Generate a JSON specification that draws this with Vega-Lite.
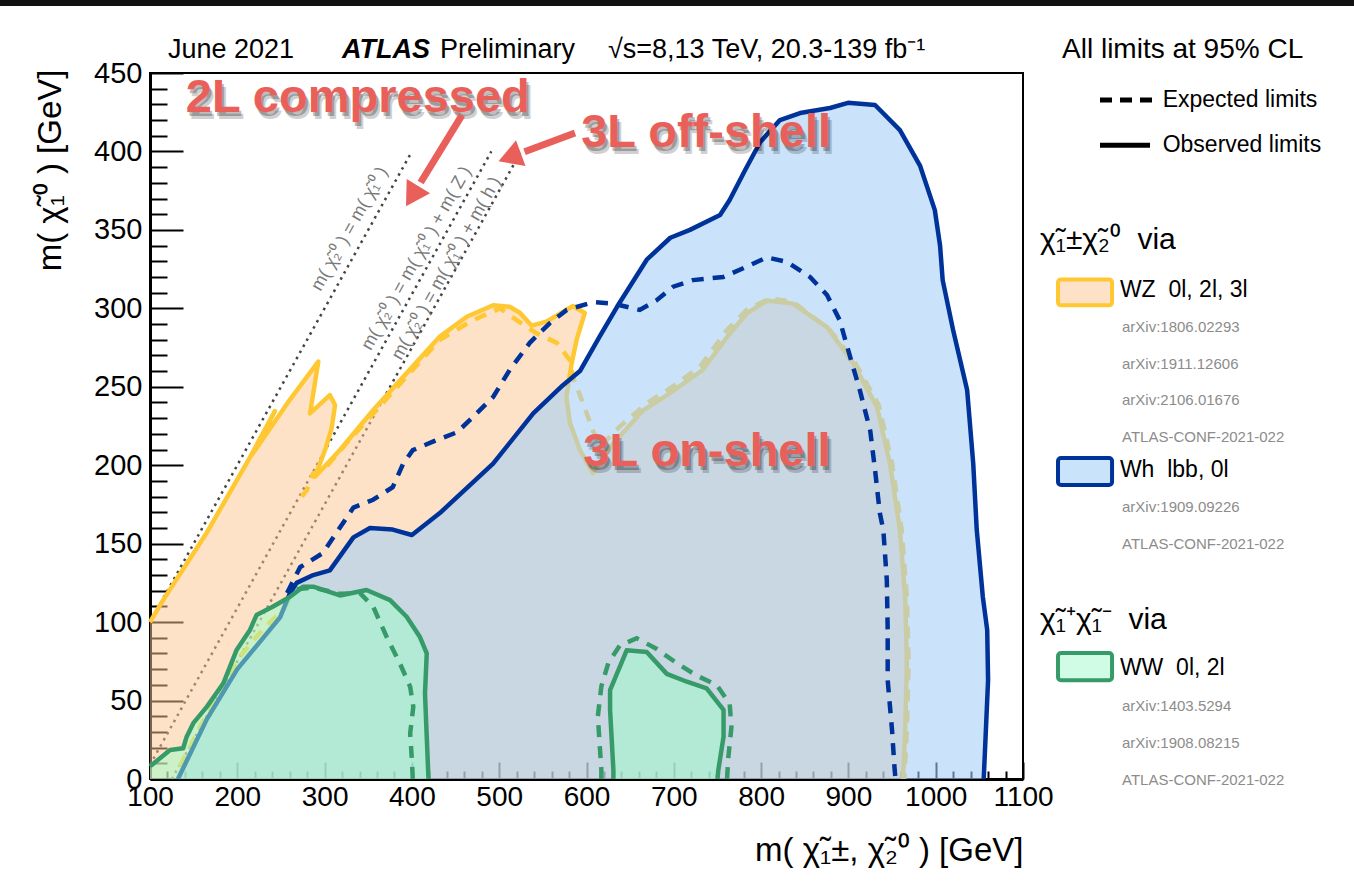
{
  "$schema": "https://vega.github.io/schema/vega-lite/v6.json",
  "width": 873,
  "height": 706,
  "autosize": {"type": "none"},
  "padding": {"left": 150, "top": 73, "right": 331, "bottom": 103},
  "background": "white",
  "config": {"font": "Liberation Sans", "view": {"stroke": "black", "strokeWidth": 2}},
  "resolve": {"axis": {"x": "independent", "y": "independent"}},
  "datasets": {
    "band": [{"x": -80, "x2": 1500, "y": 492.7, "y2": 500}],
    "kin": [
      {"seg": "A", "i": 0, "x": 100, "y": 100}, {"seg": "A", "i": 1, "x": 400, "y": 400},
      {"seg": "B", "i": 0, "x": 100, "y": 9}, {"seg": "B", "i": 1, "x": 491, "y": 400},
      {"seg": "C", "i": 0, "x": 125, "y": 0}, {"seg": "C", "i": 1, "x": 525, "y": 400}
    ],
    "kinlab": [
      {"label": "m( \u03c7\u0303\u2082\u2070 ) = m( \u03c7\u0303\u2081\u2070 )", "x": 329, "y": 350.5},
      {"label": "m( \u03c7\u0303\u2082\u2070 ) = m( \u03c7\u0303\u2081\u2070 ) + m( Z )", "x": 405.5, "y": 331.8},
      {"label": "m( \u03c7\u0303\u2082\u2070 ) = m( \u03c7\u0303\u2081\u2070 ) + m( h )", "x": 439.8, "y": 325.4}
    ],
    "wz": [
      {"i": 0, "x": 100, "y": 0, "c": 1}, {"i": 1, "x": 100, "y": 100, "c": 0}, {"i": 2, "x": 115, "y": 114, "c": 0},
      {"i": 3, "x": 165, "y": 157, "c": 0}, {"i": 4, "x": 214.5, "y": 205, "c": 0}, {"i": 5, "x": 243, "y": 234.5, "c": 0},
      {"i": 6, "x": 216.5, "y": 206.5, "c": 0}, {"i": 7, "x": 258, "y": 240, "c": 0}, {"i": 8, "x": 292.8, "y": 266, "c": 0},
      {"i": 9, "x": 287, "y": 245.8, "c": 0}, {"i": 10, "x": 283.3, "y": 233, "c": 0}, {"i": 11, "x": 306, "y": 244.7, "c": 0},
      {"i": 12, "x": 312, "y": 238.4, "c": 0}, {"i": 13, "x": 308, "y": 223.5, "c": 0}, {"i": 14, "x": 300.5, "y": 209.7, "c": 0},
      {"i": 15, "x": 289, "y": 192.7, "c": 0}, {"i": 16, "x": 317.6, "y": 209.7, "c": 0}, {"i": 17, "x": 355.5, "y": 235, "c": 0},
      {"i": 18, "x": 394, "y": 258.7, "c": 0}, {"i": 19, "x": 432, "y": 282, "c": 0}, {"i": 20, "x": 462.8, "y": 294.6, "c": 0},
      {"i": 21, "x": 493, "y": 302, "c": 0}, {"i": 22, "x": 512, "y": 301, "c": 0}, {"i": 23, "x": 524, "y": 297, "c": 0},
      {"i": 24, "x": 537, "y": 289, "c": 0}, {"i": 25, "x": 554, "y": 291.5, "c": 0}, {"i": 26, "x": 584.5, "y": 301.5, "c": 0},
      {"i": 27, "x": 598, "y": 297, "c": 0}, {"i": 28, "x": 588.7, "y": 280, "c": 0}, {"i": 29, "x": 583, "y": 265, "c": 0},
      {"i": 30, "x": 577, "y": 243.6, "c": 0}, {"i": 31, "x": 581, "y": 227, "c": 0}, {"i": 32, "x": 592.5, "y": 209.7, "c": 0},
      {"i": 33, "x": 607.5, "y": 195, "c": 0}, {"i": 34, "x": 627, "y": 211.6, "c": 0}, {"i": 35, "x": 665, "y": 235, "c": 0},
      {"i": 36, "x": 695.6, "y": 246, "c": 0}, {"i": 37, "x": 733, "y": 260.7, "c": 0}, {"i": 38, "x": 761, "y": 281.7, "c": 0},
      {"i": 39, "x": 784, "y": 297, "c": 0}, {"i": 40, "x": 807, "y": 305, "c": 0}, {"i": 41, "x": 836.6, "y": 303, "c": 0},
      {"i": 42, "x": 875.5, "y": 288, "c": 0}, {"i": 43, "x": 905.5, "y": 265, "c": 0}, {"i": 44, "x": 932.8, "y": 237, "c": 0},
      {"i": 45, "x": 947.6, "y": 201, "c": 0}, {"i": 46, "x": 959, "y": 158.7, "c": 0}, {"i": 47, "x": 965, "y": 116, "c": 0},
      {"i": 48, "x": 967, "y": 74, "c": 0}, {"i": 49, "x": 965, "y": 31, "c": 0}, {"i": 50, "x": 962.5, "y": 0, "c": 0}
    ],
    "wzexp": [
      {"seg": "A", "i": 0, "x": 134, "y": 8}, {"seg": "A", "i": 1, "x": 146, "y": 20.6}, {"seg": "A", "i": 2, "x": 157, "y": 33},
      {"seg": "A", "i": 3, "x": 176, "y": 52.5}, {"seg": "A", "i": 4, "x": 188, "y": 65}, {"seg": "A", "i": 5, "x": 203, "y": 78},
      {"seg": "A", "i": 6, "x": 222, "y": 90.7}, {"seg": "A", "i": 7, "x": 237.5, "y": 100}, {"seg": "A", "i": 8, "x": 252.7, "y": 107.7},
      {"seg": "A", "i": 9, "x": 262, "y": 116},
      {"seg": "B", "i": 0, "x": 273.8, "y": 180}, {"seg": "B", "i": 1, "x": 279.5, "y": 184}, {"seg": "B", "i": 2, "x": 287, "y": 194.8},
      {"seg": "B", "i": 3, "x": 302, "y": 199}, {"seg": "B", "i": 4, "x": 325, "y": 214}, {"seg": "B", "i": 5, "x": 355.8, "y": 233},
      {"seg": "B", "i": 6, "x": 394, "y": 256.5}, {"seg": "B", "i": 7, "x": 432, "y": 280}, {"seg": "B", "i": 8, "x": 470, "y": 292.5},
      {"seg": "B", "i": 9, "x": 501, "y": 300}, {"seg": "B", "i": 10, "x": 520, "y": 292.5}, {"seg": "B", "i": 11, "x": 543, "y": 284},
      {"seg": "B", "i": 12, "x": 566, "y": 278}, {"seg": "B", "i": 13, "x": 581, "y": 267}, {"seg": "B", "i": 14, "x": 584.5, "y": 256},
      {"seg": "B", "i": 15, "x": 596, "y": 239.6}, {"seg": "B", "i": 16, "x": 607.5, "y": 222}, {"seg": "B", "i": 17, "x": 615.5, "y": 211.8},
      {"seg": "B", "i": 18, "x": 638, "y": 224.6}, {"seg": "B", "i": 19, "x": 669, "y": 239.5}, {"seg": "B", "i": 20, "x": 695.6, "y": 249},
      {"seg": "B", "i": 21, "x": 730, "y": 262.8}, {"seg": "B", "i": 22, "x": 760.6, "y": 286}, {"seg": "B", "i": 23, "x": 783.5, "y": 299},
      {"seg": "B", "i": 24, "x": 810, "y": 306.4}, {"seg": "B", "i": 25, "x": 837, "y": 304}, {"seg": "B", "i": 26, "x": 879, "y": 286},
      {"seg": "B", "i": 27, "x": 907, "y": 266}, {"seg": "B", "i": 28, "x": 935, "y": 238}, {"seg": "B", "i": 29, "x": 950, "y": 201},
      {"seg": "B", "i": 30, "x": 961, "y": 159}, {"seg": "B", "i": 31, "x": 967, "y": 116}, {"seg": "B", "i": 32, "x": 969, "y": 74},
      {"seg": "B", "i": 33, "x": 967, "y": 31}, {"seg": "B", "i": 34, "x": 964, "y": 0}
    ],
    "wh": [
      {"i": 0, "x": 132, "y": 0}, {"i": 1, "x": 165, "y": 38}, {"i": 2, "x": 200, "y": 70}, {"i": 3, "x": 249, "y": 103},
      {"i": 4, "x": 260, "y": 118}, {"i": 5, "x": 268, "y": 125}, {"i": 6, "x": 287, "y": 130}, {"i": 7, "x": 306, "y": 133},
      {"i": 8, "x": 333, "y": 154}, {"i": 9, "x": 352, "y": 160}, {"i": 10, "x": 378, "y": 159}, {"i": 11, "x": 400, "y": 155.5},
      {"i": 12, "x": 432, "y": 169.5}, {"i": 13, "x": 493, "y": 201}, {"i": 14, "x": 539, "y": 233}, {"i": 15, "x": 573, "y": 251},
      {"i": 16, "x": 592.5, "y": 260}, {"i": 17, "x": 615, "y": 282}, {"i": 18, "x": 635, "y": 301}, {"i": 19, "x": 669, "y": 331},
      {"i": 20, "x": 696, "y": 345}, {"i": 21, "x": 718.5, "y": 350}, {"i": 22, "x": 753, "y": 359.5}, {"i": 23, "x": 764, "y": 369},
      {"i": 24, "x": 781.6, "y": 388}, {"i": 25, "x": 799, "y": 406}, {"i": 26, "x": 821.6, "y": 420}, {"i": 27, "x": 844.6, "y": 424.5},
      {"i": 28, "x": 879, "y": 427.7}, {"i": 29, "x": 899.5, "y": 431}, {"i": 30, "x": 930.5, "y": 429.6}, {"i": 31, "x": 959, "y": 413.6},
      {"i": 32, "x": 982, "y": 391}, {"i": 33, "x": 999, "y": 362.6}, {"i": 34, "x": 1005, "y": 340}, {"i": 35, "x": 1008, "y": 318},
      {"i": 36, "x": 1020, "y": 286}, {"i": 37, "x": 1036, "y": 248}, {"i": 38, "x": 1043, "y": 201}, {"i": 39, "x": 1047, "y": 159},
      {"i": 40, "x": 1054, "y": 116}, {"i": 41, "x": 1059, "y": 95}, {"i": 42, "x": 1060, "y": 63}, {"i": 43, "x": 1056.6, "y": 20},
      {"i": 44, "x": 1055, "y": 0}
    ],
    "whexp": [
      {"i": 0, "x": 257, "y": 118.5}, {"i": 1, "x": 272, "y": 135}, {"i": 2, "x": 298, "y": 144}, {"i": 3, "x": 318, "y": 160.6},
      {"i": 4, "x": 333, "y": 173}, {"i": 5, "x": 355.5, "y": 178}, {"i": 6, "x": 378, "y": 186}, {"i": 7, "x": 390, "y": 201},
      {"i": 8, "x": 401, "y": 209.6}, {"i": 9, "x": 424, "y": 215}, {"i": 10, "x": 451.7, "y": 221}, {"i": 11, "x": 470, "y": 230.7},
      {"i": 12, "x": 493, "y": 243.5}, {"i": 13, "x": 512, "y": 260.7}, {"i": 14, "x": 535, "y": 278}, {"i": 15, "x": 558, "y": 290.6},
      {"i": 16, "x": 577.4, "y": 299}, {"i": 17, "x": 607.8, "y": 304}, {"i": 18, "x": 630.7, "y": 303}, {"i": 19, "x": 661, "y": 299},
      {"i": 20, "x": 680, "y": 305}, {"i": 21, "x": 699.4, "y": 313.8}, {"i": 22, "x": 722, "y": 318}, {"i": 23, "x": 756.7, "y": 320},
      {"i": 24, "x": 783.5, "y": 326.5}, {"i": 25, "x": 806.4, "y": 332.5}, {"i": 26, "x": 830, "y": 329.5}, {"i": 27, "x": 856, "y": 320},
      {"i": 28, "x": 875.5, "y": 308.5}, {"i": 29, "x": 890, "y": 292.5}, {"i": 30, "x": 902, "y": 269}, {"i": 31, "x": 913, "y": 248},
      {"i": 32, "x": 925, "y": 222}, {"i": 33, "x": 930.5, "y": 197}, {"i": 34, "x": 936, "y": 169.5}, {"i": 35, "x": 940, "y": 158.7},
      {"i": 36, "x": 944, "y": 127}, {"i": 37, "x": 945, "y": 95}, {"i": 38, "x": 945, "y": 63}, {"i": 39, "x": 950, "y": 31},
      {"i": 40, "x": 953, "y": 5.7}, {"i": 41, "x": 954, "y": 0}
    ],
    "ww": [
      {"seg": "A", "i": 0, "x": 100, "y": 0, "c": 1}, {"seg": "A", "i": 1, "x": 100, "y": 8, "c": 0}, {"seg": "A", "i": 2, "x": 102, "y": 9, "c": 0},
      {"seg": "A", "i": 3, "x": 123, "y": 18.5, "c": 0}, {"seg": "A", "i": 4, "x": 138, "y": 19.6, "c": 0}, {"seg": "A", "i": 5, "x": 142, "y": 27, "c": 0},
      {"seg": "A", "i": 6, "x": 149.6, "y": 35.6, "c": 0}, {"seg": "A", "i": 7, "x": 165, "y": 46, "c": 0}, {"seg": "A", "i": 8, "x": 184, "y": 61, "c": 0},
      {"seg": "A", "i": 9, "x": 199, "y": 82, "c": 0}, {"seg": "A", "i": 10, "x": 214.5, "y": 95, "c": 0}, {"seg": "A", "i": 11, "x": 222, "y": 104.5, "c": 0},
      {"seg": "A", "i": 12, "x": 241, "y": 110, "c": 0}, {"seg": "A", "i": 13, "x": 260, "y": 116, "c": 0}, {"seg": "A", "i": 14, "x": 275.6, "y": 122.6, "c": 0},
      {"seg": "A", "i": 15, "x": 287, "y": 122.6, "c": 0}, {"seg": "A", "i": 16, "x": 317.6, "y": 117, "c": 0}, {"seg": "A", "i": 17, "x": 348, "y": 120.5, "c": 0},
      {"seg": "A", "i": 18, "x": 375, "y": 114, "c": 0}, {"seg": "A", "i": 19, "x": 394, "y": 103.4, "c": 0}, {"seg": "A", "i": 20, "x": 409, "y": 90.7, "c": 0},
      {"seg": "A", "i": 21, "x": 417, "y": 80, "c": 0}, {"seg": "A", "i": 22, "x": 415, "y": 54.6, "c": 0}, {"seg": "A", "i": 23, "x": 417, "y": 27, "c": 0},
      {"seg": "A", "i": 24, "x": 419, "y": 0, "c": 0},
      {"seg": "B", "i": 0, "x": 630.8, "y": 0, "c": 0}, {"seg": "B", "i": 1, "x": 630.8, "y": 5.7, "c": 0}, {"seg": "B", "i": 2, "x": 627, "y": 44, "c": 0},
      {"seg": "B", "i": 3, "x": 627, "y": 56.7, "c": 0}, {"seg": "B", "i": 4, "x": 646, "y": 82, "c": 0}, {"seg": "B", "i": 5, "x": 669, "y": 81, "c": 0},
      {"seg": "B", "i": 6, "x": 692, "y": 67, "c": 0}, {"seg": "B", "i": 7, "x": 715, "y": 62, "c": 0}, {"seg": "B", "i": 8, "x": 737.6, "y": 57.8, "c": 0},
      {"seg": "B", "i": 9, "x": 757, "y": 44, "c": 0}, {"seg": "B", "i": 10, "x": 757, "y": 27, "c": 0}, {"seg": "B", "i": 11, "x": 751, "y": 5.7, "c": 0},
      {"seg": "B", "i": 12, "x": 750, "y": 0, "c": 0}
    ],
    "wwexp": [
      {"seg": "A", "i": 0, "x": 268, "y": 121}, {"seg": "A", "i": 1, "x": 287, "y": 122}, {"seg": "A", "i": 2, "x": 318, "y": 118},
      {"seg": "A", "i": 3, "x": 340.5, "y": 118.5}, {"seg": "A", "i": 4, "x": 355.5, "y": 110}, {"seg": "A", "i": 5, "x": 371, "y": 90.7},
      {"seg": "A", "i": 6, "x": 386, "y": 74}, {"seg": "A", "i": 7, "x": 398, "y": 58.8}, {"seg": "A", "i": 8, "x": 401.6, "y": 46},
      {"seg": "A", "i": 9, "x": 398, "y": 29}, {"seg": "A", "i": 10, "x": 400, "y": 12}, {"seg": "A", "i": 11, "x": 401, "y": 0},
      {"seg": "B", "i": 0, "x": 617, "y": 0}, {"seg": "B", "i": 1, "x": 617, "y": 5.7}, {"seg": "B", "i": 2, "x": 613, "y": 40},
      {"seg": "B", "i": 3, "x": 617, "y": 59}, {"seg": "B", "i": 4, "x": 625, "y": 74}, {"seg": "B", "i": 5, "x": 638, "y": 85},
      {"seg": "B", "i": 6, "x": 657.5, "y": 89.7}, {"seg": "B", "i": 7, "x": 680, "y": 83}, {"seg": "B", "i": 8, "x": 703, "y": 74},
      {"seg": "B", "i": 9, "x": 726, "y": 66}, {"seg": "B", "i": 10, "x": 749, "y": 60}, {"seg": "B", "i": 11, "x": 764, "y": 48},
      {"seg": "B", "i": 12, "x": 766, "y": 33}, {"seg": "B", "i": 13, "x": 762.5, "y": 14}, {"seg": "B", "i": 14, "x": 761, "y": 0}
    ],
    "redtext": [
      {"label": "2L compressed", "x": 338, "y": 434},
      {"label": "3L off-shell", "x": 737, "y": 411.7},
      {"label": "3L on-shell", "x": 738, "y": 208.4}
    ],
    "shafts": [
      {"x": 457.4, "y": 423.2, "x2": 410, "y2": 380.2},
      {"x": 586.8, "y": 411.7, "x2": 529, "y2": 399.8}
    ],
    "head1": [{"x": 402.7, "y": 373.6}],
    "head2": [{"x": 516.2, "y": 397.2}],
    "hdrplain": [
      {"label": "June 2021", "x": 120.6, "y": 464.6},
      {"label": "Preliminary", "x": 432.2, "y": 464.6},
      {"label": "\u221as=8,13 TeV, 20.3-139 fb\u207b\u00b9", "x": 624.6, "y": 464.6}
    ],
    "hdrbold": [{"label": "ATLAS", "x": 320, "y": 464.6}],
    "cl": [{"label": "All limits at 95% CL", "x": 1144.7, "y": 464.6}],
    "legexp": [{"x": 1188.2, "x2": 1250, "y": 432.8}],
    "legobs": [{"x": 1188.2, "x2": 1245.5, "y": 404}],
    "legstyle": [
      {"label": "Expected limits", "x": 1260, "y": 432.8},
      {"label": "Observed limits", "x": 1260, "y": 404}
    ],
    "leghead": [
      {"label": "\u03c7\u0303\u2081\u00b1\u03c7\u0303\u2082\u2070\u00a0\u00a0via", "x": 1119.5, "y": 343.5},
      {"label": "\u03c7\u0303\u2081\u207a\u03c7\u0303\u2081\u207b\u00a0\u00a0via", "x": 1119.5, "y": 101.3}
    ],
    "legmain": [
      {"label": "WZ\u00a0\u00a00l, 2l, 3l", "x": 1211, "y": 311.7},
      {"label": "Wh\u00a0\u00a0lbb, 0l", "x": 1211, "y": 197},
      {"label": "WW\u00a0\u00a00l, 2l", "x": 1211, "y": 70.7}
    ],
    "legrefs": [
      {"label": "arXiv:1806.02293", "x": 1213.4, "y": 288.1},
      {"label": "arXiv:1911.12606", "x": 1213.4, "y": 264.5},
      {"label": "arXiv:2106.01676", "x": 1213.4, "y": 241.6},
      {"label": "ATLAS-CONF-2021-022", "x": 1213.4, "y": 218},
      {"label": "arXiv:1909.09226", "x": 1213.4, "y": 173.4},
      {"label": "ATLAS-CONF-2021-022", "x": 1213.4, "y": 149.8},
      {"label": "arXiv:1403.5294", "x": 1213.4, "y": 46.5},
      {"label": "arXiv:1908.08215", "x": 1213.4, "y": 22.9},
      {"label": "ATLAS-CONF-2021-022", "x": 1213.4, "y": -0.6}
    ],
    "swatch": [
      {"series": "WZ", "x": 1140.1, "x2": 1202, "y": 301.9, "y2": 318.4},
      {"series": "Wh", "x": 1140.1, "x2": 1202, "y": 187.4, "y2": 204.6},
      {"series": "WW", "x": 1140.1, "x2": 1202, "y": 63, "y2": 80.3}
    ]
  },
  "encoding": {
    "x": {"field": "x", "type": "quantitative", "scale": {"domain": [100, 1100], "nice": false, "zero": false}, "axis": null},
    "y": {"field": "y", "type": "quantitative", "scale": {"domain": [0, 450], "nice": false, "zero": false}, "axis": null}
  },
  "layer": [
    {
      "data": {"name": "band"},
      "mark": {"type": "rect", "fill": "#111111"},
      "encoding": {"x2": {"field": "x2"}, "y2": {"field": "y2"}}
    },
    {
      "data": {"name": "kin"},
      "mark": {"type": "line", "stroke": "#444444", "strokeWidth": 2.5, "strokeDash": [2.5, 4.5]},
      "encoding": {
        "x": {"field": "x", "type": "quantitative", "scale": {"domain": [100, 1100], "nice": false, "zero": false},
          "axis": {"orient": "bottom", "values": [100, 200, 300, 400, 500, 600, 700, 800, 900, 1000, 1100], "format": "d", "tickSize": -17, "tickWidth": 2, "tickColor": "black",
            "domainColor": "black", "domainWidth": 3, "labelFont": "Liberation Sans", "labelFontSize": 28, "labelColor": "black", "labelPadding": 21,
            "labelFlush": false, "labelOverlap": false, "grid": false,
            "title": "m( \u03c7\u0303\u2081\u00b1, \u03c7\u0303\u2082\u2070 ) [GeV]", "titleFont": "Liberation Sans", "titleFontSize": 33, "titleFontWeight": "normal",
            "titleColor": "black", "titleX": 873, "titleY": 71, "titleAlign": "right", "titleBaseline": "middle", "titleAnchor": "end"}},
        "y": {"field": "y", "type": "quantitative", "scale": {"domain": [0, 450], "nice": false, "zero": false},
          "axis": {"orient": "left", "values": [0, 50, 100, 150, 200, 250, 300, 350, 400, 450], "format": "d", "tickSize": -33, "tickWidth": 2, "tickColor": "black",
            "domainColor": "black", "domainWidth": 3, "labelFont": "Liberation Sans", "labelFontSize": 29, "labelColor": "black", "labelPadding": 41,
            "labelFlush": false, "labelOverlap": false, "grid": false,
            "title": "m( \u03c7\u0303\u2081\u2070 ) [GeV]", "titleFont": "Liberation Sans", "titleFontSize": 33, "titleFontWeight": "normal",
            "titleColor": "black", "titleX": -100, "titleY": -4, "titleAngle": 270, "titleAlign": "right", "titleBaseline": "middle", "titleAnchor": "end"}},
        "detail": {"field": "seg"},
        "order": {"field": "i"}
      }
    },
    {
      "data": {"name": "kinlab"},
      "mark": {"type": "text", "angle": 299.1, "align": "center", "baseline": "middle", "fontSize": 18, "fill": "#7a7a7a", "font": "Liberation Sans"},
      "encoding": {"text": {"field": "label"}}
    },
    {
      "data": {"name": "wz"},
      "mark": {"type": "line", "interpolate": "linear-closed", "fill": "#fbc591", "fillOpacity": 0.5, "strokeOpacity": 0},
      "encoding": {
        "x": {"field": "x", "type": "quantitative", "scale": {"domain": [100, 1100], "nice": false, "zero": false},
          "axis": {"orient": "bottom", "values": [120, 140, 160, 180, 220, 240, 260, 280, 320, 340, 360, 380, 420, 440, 460, 480, 520, 540, 560, 580, 620, 640, 660, 680, 720, 740, 760, 780, 820, 840, 860, 880, 920, 940, 960, 980, 1020, 1040, 1060, 1080],
            "tickSize": -8, "tickWidth": 2, "tickColor": "black", "labels": false, "domain": false, "grid": false, "title": null}},
        "y": {"field": "y", "type": "quantitative", "scale": {"domain": [0, 450], "nice": false, "zero": false},
          "axis": {"orient": "left", "values": [10, 20, 30, 40, 60, 70, 80, 90, 110, 120, 130, 140, 160, 170, 180, 190, 210, 220, 230, 240, 260, 270, 280, 290, 310, 320, 330, 340, 360, 370, 380, 390, 410, 420, 430, 440],
            "tickSize": -17, "tickWidth": 2, "tickColor": "black", "labels": false, "domain": false, "grid": false, "title": null}},
        "order": {"field": "i"}
      }
    },
    {
      "data": {"name": "wzexp"},
      "mark": {"type": "line", "stroke": "#ffc832", "strokeWidth": 4.5, "strokeDash": [12, 9]},
      "encoding": {"detail": {"field": "seg"}, "order": {"field": "i"}}
    },
    {
      "data": {"name": "wz"},
      "transform": [{"filter": "datum.c != 1"}],
      "mark": {"type": "line", "stroke": "#ffc832", "strokeWidth": 4.5, "strokeJoin": "round"},
      "encoding": {"order": {"field": "i"}}
    },
    {
      "data": {"name": "wh"},
      "mark": {"type": "line", "interpolate": "linear-closed", "fill": "#a4cff6", "fillOpacity": 0.58, "strokeOpacity": 0},
      "encoding": {"order": {"field": "i"}}
    },
    {
      "data": {"name": "whexp"},
      "mark": {"type": "line", "stroke": "#003399", "strokeWidth": 4.5, "strokeDash": [12, 9]},
      "encoding": {"order": {"field": "i"}}
    },
    {
      "data": {"name": "wh"},
      "mark": {"type": "line", "stroke": "#003399", "strokeWidth": 4.5, "strokeJoin": "round"},
      "encoding": {"order": {"field": "i"}}
    },
    {
      "data": {"name": "ww"},
      "mark": {"type": "line", "interpolate": "linear-closed", "fill": "#9bfec8", "fillOpacity": 0.5, "strokeOpacity": 0},
      "encoding": {"detail": {"field": "seg"}, "order": {"field": "i"}}
    },
    {
      "data": {"name": "wwexp"},
      "mark": {"type": "line", "stroke": "#379b69", "strokeWidth": 4.5, "strokeDash": [12, 9]},
      "encoding": {"detail": {"field": "seg"}, "order": {"field": "i"}}
    },
    {
      "data": {"name": "ww"},
      "transform": [{"filter": "datum.c != 1"}],
      "mark": {"type": "line", "stroke": "#379b69", "strokeWidth": 4.5, "strokeJoin": "round"},
      "encoding": {"detail": {"field": "seg"}, "order": {"field": "i"}}
    },
    {
      "data": {"name": "redtext"},
      "mark": {"type": "text", "align": "center", "baseline": "middle", "font": "Liberation Sans", "fontWeight": "bold", "fontSize": 47, "fill": "#000000", "opacity": 0.18, "dx": 4, "dy": 7},
      "encoding": {"text": {"field": "label"}}
    },
    {
      "data": {"name": "redtext"},
      "mark": {"type": "text", "align": "center", "baseline": "middle", "font": "Liberation Sans", "fontWeight": "bold", "fontSize": 47, "fill": "#000000", "opacity": 0.25, "dx": 2, "dy": 4},
      "encoding": {"text": {"field": "label"}}
    },
    {
      "data": {"name": "redtext"},
      "mark": {"type": "text", "align": "center", "baseline": "middle", "font": "Liberation Sans", "fontWeight": "bold", "fontSize": 47, "fill": "#e9605a"},
      "encoding": {"text": {"field": "label"}}
    },
    {
      "data": {"name": "shafts"},
      "mark": {"type": "rule", "stroke": "#e9605a", "strokeWidth": 7},
      "encoding": {"x2": {"field": "x2"}, "y2": {"field": "y2"}}
    },
    {
      "data": {"name": "head1"},
      "mark": {"type": "point", "shape": "triangle", "filled": true, "fill": "#e9605a", "fillOpacity": 1, "strokeWidth": 0, "size": 750, "angle": 211.5}
    },
    {
      "data": {"name": "head2"},
      "mark": {"type": "point", "shape": "triangle", "filled": true, "fill": "#e9605a", "fillOpacity": 1, "strokeWidth": 0, "size": 750, "angle": 249.7}
    },
    {
      "data": {"name": "hdrplain"},
      "mark": {"type": "text", "align": "left", "baseline": "middle", "font": "Liberation Sans", "fontSize": 27, "fill": "black"},
      "encoding": {"text": {"field": "label"}}
    },
    {
      "data": {"name": "hdrbold"},
      "mark": {"type": "text", "align": "left", "baseline": "middle", "font": "Liberation Sans", "fontSize": 27, "fontWeight": "bold", "fontStyle": "italic", "fill": "black"},
      "encoding": {"text": {"field": "label"}}
    },
    {
      "data": {"name": "cl"},
      "mark": {"type": "text", "align": "left", "baseline": "middle", "font": "Liberation Sans", "fontSize": 28, "fill": "black"},
      "encoding": {"text": {"field": "label"}}
    },
    {
      "data": {"name": "legexp"},
      "mark": {"type": "rule", "stroke": "black", "strokeWidth": 5, "strokeDash": [12, 8]},
      "encoding": {"x2": {"field": "x2"}}
    },
    {
      "data": {"name": "legobs"},
      "mark": {"type": "rule", "stroke": "black", "strokeWidth": 5},
      "encoding": {"x2": {"field": "x2"}}
    },
    {
      "data": {"name": "legstyle"},
      "mark": {"type": "text", "align": "left", "baseline": "middle", "font": "Liberation Sans", "fontSize": 23, "fill": "black"},
      "encoding": {"text": {"field": "label"}}
    },
    {
      "data": {"name": "leghead"},
      "mark": {"type": "text", "align": "left", "baseline": "middle", "font": "Liberation Sans", "fontSize": 30, "fill": "black"},
      "encoding": {"text": {"field": "label"}}
    },
    {
      "data": {"name": "legmain"},
      "mark": {"type": "text", "align": "left", "baseline": "middle", "font": "Liberation Sans", "fontSize": 23, "fill": "black"},
      "encoding": {"text": {"field": "label"}}
    },
    {
      "data": {"name": "legrefs"},
      "mark": {"type": "text", "align": "left", "baseline": "middle", "font": "Liberation Sans", "fontSize": 15, "fill": "#8c8c8c"},
      "encoding": {"text": {"field": "label"}}
    },
    {
      "data": {"name": "swatch"},
      "mark": {"type": "rect", "strokeWidth": 4, "cornerRadius": 3},
      "encoding": {
        "x2": {"field": "x2"}, "y2": {"field": "y2"},
        "fill": {"field": "series", "type": "nominal", "scale": {"domain": ["WZ", "Wh", "WW"], "range": ["#fde2c8", "#c9e3fa", "#d0fbe4"]}, "legend": null},
        "stroke": {"field": "series", "type": "nominal", "scale": {"domain": ["WZ", "Wh", "WW"], "range": ["#ffc832", "#003399", "#379b69"]}, "legend": null}
      }
    }
  ]
}
